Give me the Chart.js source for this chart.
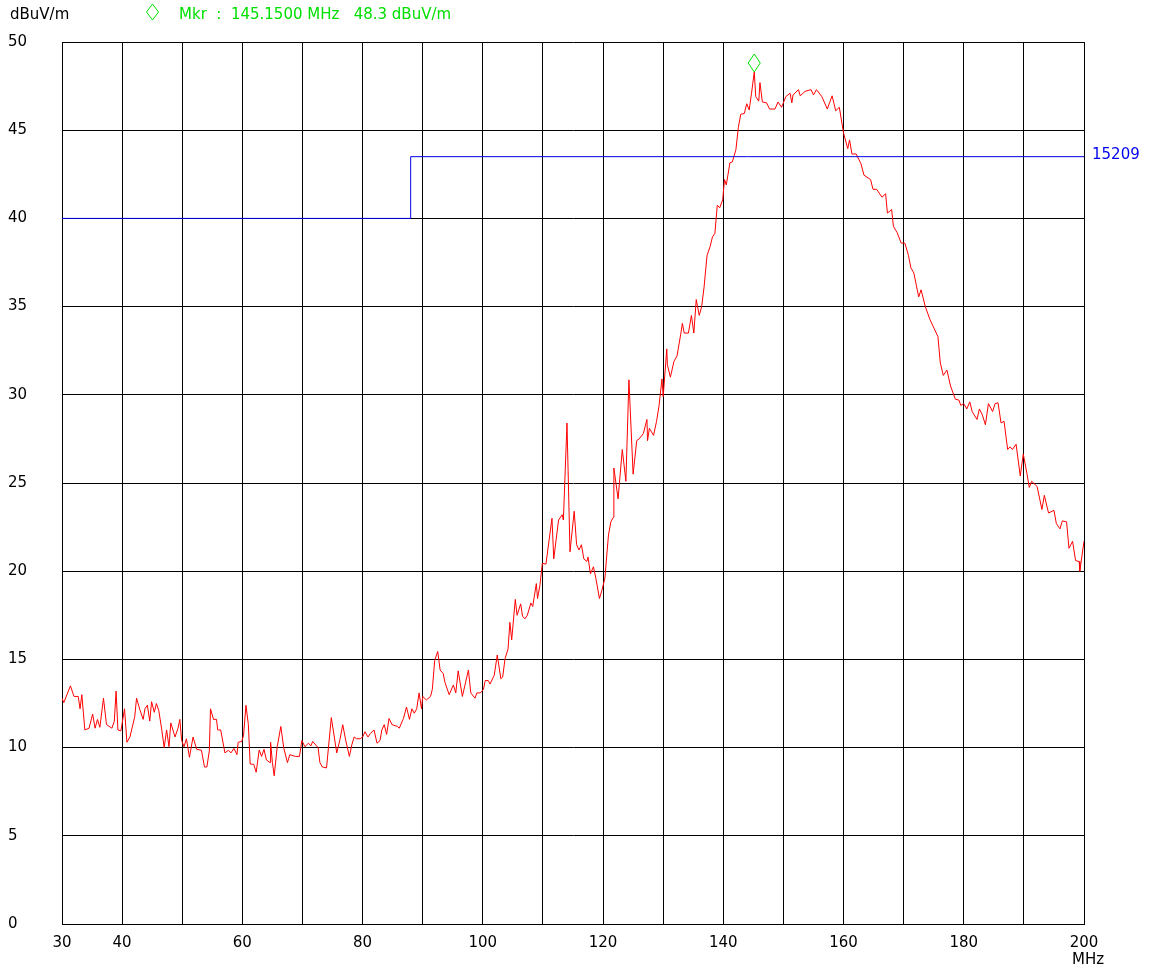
<!DOCTYPE html>
<html>
<head>
<meta charset="utf-8">
<script src="https://cdn.jsdelivr.net/npm/chart.js@4.4.0/dist/chart.umd.min.js"></script>
<style>
  body { margin: 0; background: #fff; }
  canvas { display: block; }
</style>
</head>
<body>
<canvas id="scan" width="1149" height="968"></canvas>
<script>
// scan trace (MHz / dBuV/m)
var freqMHz = [
  30.0, 30.3, 31.4, 32.0, 32.7, 33.0, 33.3, 33.8, 34.5, 35.1, 35.5, 35.9, 36.3, 36.9, 37.4, 38.3, 38.7, 39.0, 39.3, 39.8,
  40.4, 40.8, 41.3, 42.1, 42.4, 43.0, 43.5, 43.8, 44.2, 44.6, 44.9, 45.35, 45.7, 46.1, 46.6, 47.0, 47.4, 47.8, 48.1, 48.8,
  49.3, 49.6, 49.9, 50.3, 50.7, 51.2, 51.8, 52.4, 53.2, 53.7, 54.1, 54.5, 54.7, 55.2, 55.7, 55.9, 56.4, 57.1, 57.7, 58.1,
  58.6, 59.1, 59.3, 59.9, 60.2, 60.6, 61.0, 61.3, 61.9, 62.3, 62.8, 63.2, 63.6, 64.0, 64.6, 64.7, 65.0, 65.3, 65.8, 66.4,
  66.9, 67.5, 67.9, 68.8, 69.5, 69.9, 70.4, 71.0, 71.4, 71.7, 72.2, 72.6, 72.9, 73.3, 74.0, 74.8, 75.7, 76.2, 76.7, 77.2,
  77.8, 78.2, 78.6, 79.0, 79.6, 80.0, 80.4, 80.9, 81.3, 81.9, 82.4, 82.9, 83.2, 83.6, 84.0, 84.4, 84.9, 85.8, 86.1, 86.8,
  87.3, 87.8, 88.2, 88.6, 89.0, 89.4, 89.8, 90.0, 90.6, 91.3, 91.6, 92.0, 92.5, 92.9, 93.4, 93.7, 94.4, 95.1, 95.5, 95.9,
  96.6, 97.6, 98.0, 98.7, 99.0, 99.6, 100.1, 100.4, 100.9, 101.2, 101.9, 102.4, 103.0, 103.3, 103.7, 104.2, 104.5, 104.8, 105.4, 105.7,
  106.3, 106.6, 107.0, 107.4, 108.0, 108.3, 108.9, 109.1, 109.5, 109.9, 110.5, 111.5, 111.8, 112.6, 113.2, 113.4, 114.0, 114.5, 115.2, 115.6,
  116.0, 116.4, 116.8, 117.3, 117.5, 117.9, 118.4, 118.8, 119.4, 119.8, 120.3, 120.9, 121.3, 121.7, 121.8, 122.5, 123.2, 123.8, 124.3, 125.0,
  125.6, 126.0, 126.7, 127.3, 127.4, 127.7, 128.4, 128.9, 129.3, 129.8, 130.0, 130.6, 130.7, 131.2, 131.8, 132.3, 132.9, 133.2, 133.5, 134.2,
  134.7, 135.1, 135.5, 136.0, 136.4, 136.8, 137.3, 137.8, 138.2, 138.6, 139.0, 139.4, 139.9, 140.2, 140.5, 141.1, 141.5, 142.1, 142.5, 142.9,
  143.5, 143.9, 144.3, 144.7, 145.15, 145.4, 145.9, 146.1, 146.5, 147.2, 147.7, 148.6, 149.1, 149.7, 150.4, 151.1, 151.4, 151.6, 152.5, 152.8,
  153.6, 154.6, 155.0, 155.5, 156.4, 157.3, 158.1, 158.7, 159.3, 160.0, 160.7, 161.0, 161.4, 162.1, 162.9, 163.4, 164.5, 164.9, 165.5, 166.4,
  167.0, 167.3, 168.0, 168.3, 168.9, 169.6, 170.2, 170.8, 171.2, 171.7, 172.5, 172.9, 173.6, 174.4, 175.7, 176.1, 176.6, 177.2, 177.8, 178.6,
  179.2, 179.5, 180.0, 180.5, 181.0, 181.4, 182.2, 182.6, 183.1, 183.6, 184.1, 184.8, 185.2, 185.7, 186.2, 186.7, 187.3, 187.7, 188.1, 188.7,
  189.4, 189.9, 190.5, 190.9, 191.3, 192.2, 193.0, 193.4, 194.1, 195.0, 195.4, 196.0, 196.4, 197.1, 197.5, 198.1, 198.6, 199.2, 199.3, 200.0
];
var levelDbuv = [
  12.8, 12.55, 13.5, 12.9, 12.9, 12.2, 13.0, 11.0, 11.1, 11.9, 11.1, 11.6, 11.15, 12.8, 11.3, 11.1, 11.5, 13.2, 11.0, 10.95,
  12.2, 10.3, 10.6, 11.75, 12.8, 12.1, 11.6, 12.2, 12.4, 11.5, 12.6, 12.0, 12.5, 12.1, 11.0, 10.0, 11.0, 10.05, 11.4, 10.6,
  11.1, 11.6, 10.4, 10.05, 10.5, 9.45, 10.6, 9.9, 9.85, 8.9, 8.9, 9.8, 12.2, 11.6, 11.6, 11.0, 11.0, 9.7, 9.85, 9.7,
  9.95, 9.6, 10.3, 10.35, 10.7, 12.4, 11.3, 9.07, 9.05, 8.6, 9.86, 9.5, 9.9, 9.3, 9.15, 10.3, 9.15, 8.4, 10.05, 11.2,
  9.95, 9.15, 9.6, 9.5, 9.5, 10.4, 10.05, 10.25, 10.1, 10.35, 10.15, 10.0, 9.15, 8.9, 8.85, 11.7, 9.7, 10.4, 11.3, 10.4,
  9.5, 10.15, 10.6, 10.5, 10.5, 10.6, 10.9, 10.6, 10.8, 11.0, 10.25, 10.4, 11.0, 11.3, 10.75, 11.65, 11.3, 11.2, 11.1, 11.65,
  12.3, 11.6, 12.2, 11.95, 12.2, 13.1, 12.2, 12.9, 12.7, 12.9, 13.3, 14.95, 15.45, 14.4, 14.2, 13.7, 13.0, 13.55, 13.1, 14.35,
  12.9, 14.4, 13.1, 12.8, 13.1, 13.1, 13.3, 13.8, 13.8, 13.6, 14.1, 15.25, 13.9, 14.0, 15.05, 15.6, 17.1, 16.1, 18.4, 17.5,
  18.15, 17.45, 17.3, 17.5, 18.2, 18.0, 19.3, 18.45, 19.2, 20.45, 20.4, 23.0, 20.7, 22.9, 23.2, 22.9, 28.4, 21.1, 23.4, 21.5,
  21.2, 21.5, 20.7, 20.55, 20.8, 19.85, 20.25, 19.6, 18.45, 18.9, 19.6, 22.05, 22.8, 23.05, 25.85, 24.1, 26.9, 25.1, 30.85, 25.5,
  27.4, 27.5, 27.8, 28.6, 27.4, 28.1, 27.7, 28.5, 29.35, 30.9, 29.9, 32.6, 31.7, 31.0, 31.9, 32.2, 33.4, 34.05, 33.5, 33.5,
  34.5, 33.5, 35.4, 34.5, 35.0, 36.1, 37.9, 38.4, 38.95, 39.15, 40.75, 40.6, 41.05, 42.2, 41.9, 43.15, 43.2, 43.9, 45.15, 45.9,
  45.95, 46.5, 46.15, 47.1, 48.3, 46.9, 46.65, 47.7, 46.6, 46.55, 46.2, 46.2, 46.6, 46.3, 46.9, 47.1, 46.55, 47.0, 47.3, 46.95,
  47.2, 47.3, 47.0, 47.3, 46.9, 46.2, 46.95, 46.1, 46.3, 44.85, 43.95, 44.45, 43.65, 43.65, 43.1, 42.45, 42.2, 41.65, 41.65, 41.2,
  41.4, 40.3, 40.5, 39.55, 39.2, 38.6, 38.6, 37.9, 37.2, 36.9, 35.55, 35.95, 35.0, 34.25, 33.3, 31.8, 31.1, 31.4, 30.5, 29.75,
  29.7, 29.4, 29.5, 29.2, 29.6, 29.05, 28.6, 29.2, 28.85, 28.3, 29.5, 29.05, 29.5, 29.55, 28.4, 28.5, 26.9, 27.05, 26.9, 27.2,
  25.4, 26.65, 25.55, 24.75, 25.1, 24.8, 23.5, 24.3, 23.3, 23.45, 22.7, 22.4, 22.85, 22.8, 21.3, 21.7, 20.6, 20.55, 20.0, 21.7
];

// limit line (FCC 15209)
var limitFreq = [30, 88, 88, 200];
var limitLevel = [40, 40, 43.5, 43.5];
var limitName = '15209';

var markerFreq = 145.15;
var markerLevel = 48.3;

var xTickLabels = [30, 40, 60, 80, 100, 120, 140, 160, 180, 200];

var FONT = '"DejaVu Sans", "Liberation Sans", Arial, sans-serif';

function pairs(xs, ys) {
  return xs.map(function (x, i) { return { x: x, y: ys[i] }; });
}

function diamond(ctx, cx, cy, hw, hh) {
  ctx.beginPath();
  ctx.moveTo(cx, cy - hh);
  ctx.lineTo(cx + hw, cy);
  ctx.lineTo(cx, cy + hh);
  ctx.lineTo(cx - hw, cy);
  ctx.closePath();
  ctx.stroke();
}

var annotations = {
  id: 'annotations',
  afterDraw: function (chart) {
    var ctx = chart.ctx;
    var xs = chart.scales.x, ys = chart.scales.y;
    ctx.save();
    ctx.font = '15px ' + FONT;
    ctx.textBaseline = 'middle';
    ctx.textAlign = 'left';

    ctx.fillStyle = '#000';
    ctx.fillText('dBuV/m', 10, 15);

    ctx.strokeStyle = '#00e000';
    ctx.lineWidth = 1;
    diamond(ctx, 152.5, 12, 6, 8);
    ctx.fillStyle = '#00e000';
    ctx.fillText('Mkr  :  ' + markerFreq.toFixed(4) + ' MHz   ' + markerLevel.toFixed(1) + ' dBuV/m', 179, 15);

    // marker on the trace, tip resting on the peak
    var px = xs.getPixelForValue(markerFreq);
    var py = ys.getPixelForValue(markerLevel);
    diamond(ctx, px, py - 9, 6, 9);

    ctx.fillStyle = '#0000ee';
    ctx.fillText(limitName, xs.right + 8, ys.getPixelForValue(limitLevel[3]) - 2);

    ctx.fillStyle = '#000';
    ctx.fillText('MHz', xs.right - 12, 960);
    ctx.restore();
  }
};

new Chart(document.getElementById('scan').getContext('2d'), {
  type: 'line',
  data: {
    datasets: [
      {
        data: pairs(limitFreq, limitLevel),
        borderColor: 'rgb(0,0,230)',
        borderWidth: 1,
        pointRadius: 0,
        tension: 0
      },
      {
        data: pairs(freqMHz, levelDbuv),
        borderColor: 'rgb(255,0,0)',
        borderWidth: 1,
        pointRadius: 0,
        tension: 0
      }
    ]
  },
  options: {
    responsive: false,
    animation: false,
    layout: { padding: { left: 8, right: 65, top: 42, bottom: 0 } },
    plugins: { legend: { display: false }, tooltip: { enabled: false } },
    scales: {
      x: {
        type: 'linear',
        min: 30,
        max: 200,
        afterFit: function (s) { s.height = 44; },
        grid: { color: '#000', lineWidth: 1, drawTicks: false },
        border: { color: '#000', width: 1 },
        ticks: {
          stepSize: 10,
          autoSkip: false,
          maxRotation: 0,
          padding: 10,
          color: '#000',
          font: { family: FONT, size: 15 },
          callback: function (v) { return xTickLabels.indexOf(v) >= 0 ? String(v) : ''; }
        }
      },
      y: {
        min: 0,
        max: 50,
        afterFit: function (s) { s.width = 54; },
        grid: { color: '#000', lineWidth: 1, drawTicks: false },
        border: { color: '#000', width: 1 },
        ticks: {
          stepSize: 5,
          crossAlign: 'far',
          color: '#000',
          font: { family: FONT, size: 15 }
        }
      }
    }
  },
  plugins: [annotations]
});
</script>
</body>
</html>
